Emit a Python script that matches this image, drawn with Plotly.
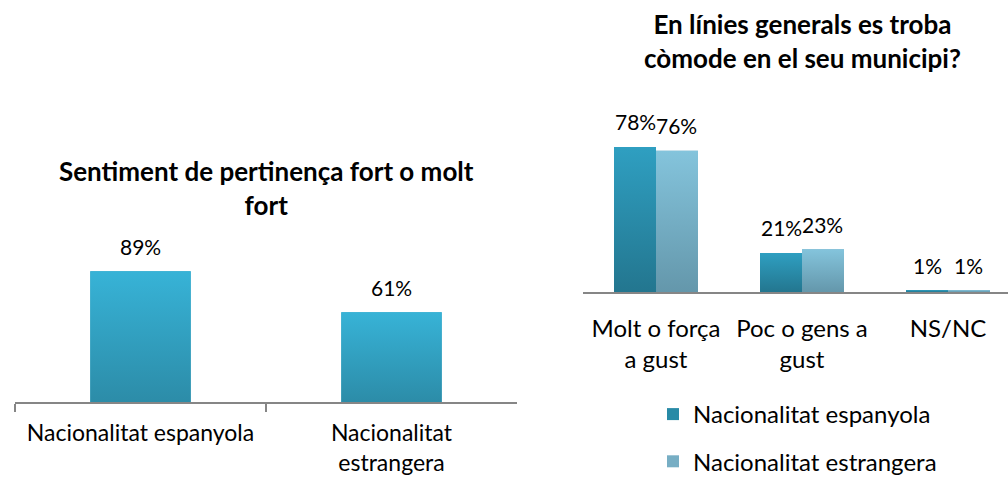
import plotly.graph_objects as go

# Left chart data
left_title = "Sentiment de pertinença fort o molt<br>fort"
left_categories = ["Nacionalitat espanyola", "Nacionalitat<br>estrangera"]
left_values = [89, 61]

# Right chart data
right_title = "En línies generals es troba<br>còmode en el seu municipi?"
right_categories = ["Molt o força<br>a gust", "Poc o gens a<br>gust", "NS/NC"]
series_names = ["Nacionalitat espanyola", "Nacionalitat estrangera"]
espanyola = [78, 21, 1]
estrangera = [76, 23, 1]

# Styles
FONT = "Lato, Carlito, Calibri, sans-serif"
W, H = 1008, 480
LABEL_SIZE = 21
TICK_SIZE = 24
LEFT_TICK_SIZE = 23
TITLE_SIZE = 26
BARGAP = 0.425
LEFT_WIDTH = 0.4
LEFT_GRAD = ("#2C8CA8", "#37B3D7")     # bottom, top
ESP_GRAD = ("#23768F", "#2F9FC1")
EST_GRAD = ("#6497AB", "#84C4DC")
LEFT_SOLID = "#31A0BF"
ESP_SOLID = "#288AA6"
EST_SOLID = "#77AEC4"


def px_x(p):
    return p / W


def px_y(p):
    return (H - p) / H


fig = go.Figure()

# Base bars (category axes)
fig.add_trace(go.Bar(
    x=left_categories, y=left_values, xaxis="x", yaxis="y",
    marker=dict(color=LEFT_SOLID, line=dict(width=0)),
    showlegend=False, width=LEFT_WIDTH,
))
fig.add_trace(go.Bar(
    x=right_categories, y=espanyola, xaxis="x2", yaxis="y2",
    name=series_names[0], legendgroup="a",
    marker=dict(color=ESP_SOLID, line=dict(width=0)),
))
fig.add_trace(go.Bar(
    x=right_categories, y=estrangera, xaxis="x2", yaxis="y2",
    name=series_names[1], legendgroup="b",
    marker=dict(color=EST_SOLID, line=dict(width=0)),
))


def grad_bar(xc, half_w, v, grad, xa, ya):
    fig.add_trace(go.Scatter(
        x=[xc - half_w, xc + half_w, xc + half_w, xc - half_w, xc - half_w],
        y=[0, 0, v, v, 0],
        xaxis=xa, yaxis=ya, mode="lines", line=dict(width=0),
        fill="toself",
        fillgradient=dict(type="vertical", colorscale=[[0, grad[0]], [1, grad[1]]]),
        showlegend=False, hoverinfo="skip",
    ))


# Gradient overlays on overlaid linear axes, positioned from the data
for i, v in enumerate(left_values):
    grad_bar(i, LEFT_WIDTH / 2, v, LEFT_GRAD, "x3", "y3")

bar_w = (1 - BARGAP) / 2
for i, (a, b) in enumerate(zip(espanyola, estrangera)):
    grad_bar(i - bar_w / 2, bar_w / 2, a, ESP_GRAD, "x4", "y4")
    grad_bar(i + bar_w / 2, bar_w / 2, b, EST_GRAD, "x4", "y4")

annotations = [
    dict(text=f"<b>{left_title}</b>", x=px_x(266), y=px_y(188), xref="paper", yref="paper",
         xanchor="center", yanchor="middle", showarrow=False,
         font=dict(size=TITLE_SIZE, family=FONT, color="#000000")),
    dict(text=f"<b>{right_title}</b>", x=px_x(802), y=px_y(41), xref="paper", yref="paper",
         xanchor="center", yanchor="middle", showarrow=False,
         font=dict(size=TITLE_SIZE, family=FONT, color="#000000")),
]

# value labels
for i, v in enumerate(left_values):
    annotations.append(dict(text=f"{v}%", x=i, y=v, xref="x3", yref="y3",
                            xanchor="center", yanchor="middle", yshift=25, showarrow=False,
                            font=dict(size=LABEL_SIZE, family=FONT, color="#000000")))
for i, (a, b) in enumerate(zip(espanyola, estrangera)):
    for off, v in ((-bar_w / 2, a), (bar_w / 2, b)):
        annotations.append(dict(text=f"{v}%", x=i + off, y=v, xref="x4", yref="y4",
                                xanchor="center", yanchor="middle", yshift=25, showarrow=False,
                                font=dict(size=LABEL_SIZE, family=FONT, color="#000000")))

LEFT_DOM_Y = [px_y(402), px_y(255)]
RIGHT_DOM_Y = [px_y(292), px_y(106)]
LEFT_RANGE_X = [-0.5, 1.5]
RIGHT_RANGE_X = [-0.5, 2.411]

fig.update_layout(
    width=W, height=H,
    margin=dict(l=0, r=0, t=0, b=0, autoexpand=False),
    paper_bgcolor="white", plot_bgcolor="white",
    font=dict(family=FONT, color="#000000", size=TICK_SIZE),
    barmode="group", bargap=BARGAP, bargroupgap=0,
    hovermode=False,
    xaxis=dict(
        domain=[px_x(15), px_x(517)], range=LEFT_RANGE_X,
        anchor="y", showline=True, linecolor="#868686", linewidth=2,
        ticks="outside", tickson="boundaries", ticklen=8, tickcolor="#868686", tickwidth=2,
        tickfont=dict(size=LEFT_TICK_SIZE, family=FONT, color="#000000"),
        tickangle=0, automargin=False,
        ticklabelstandoff=9,
        showgrid=False, zeroline=False,
    ),
    yaxis=dict(
        domain=LEFT_DOM_Y, range=[0, 100], automargin=False,
        anchor="x", visible=False, showgrid=False, zeroline=False,
    ),
    xaxis3=dict(overlaying="x", anchor="y3", range=LEFT_RANGE_X, visible=False, automargin=False),
    yaxis3=dict(overlaying="y", anchor="x3", range=[0, 100], visible=False, automargin=False),
    xaxis2=dict(
        domain=[px_x(583), 1.0], range=RIGHT_RANGE_X,
        anchor="y2", showline=True, linecolor="#868686", linewidth=2,
        ticks="", tickfont=dict(size=TICK_SIZE, family=FONT, color="#000000"),
        tickangle=0, automargin=False,
        ticklabelstandoff=14,
        showgrid=False, zeroline=False,
    ),
    yaxis2=dict(
        domain=RIGHT_DOM_Y, range=[0, 100], automargin=False,
        anchor="x2", visible=False, showgrid=False, zeroline=False,
    ),
    xaxis4=dict(overlaying="x2", anchor="y4", range=RIGHT_RANGE_X, visible=False, automargin=False),
    yaxis4=dict(overlaying="y2", anchor="x4", range=[0, 100], visible=False, automargin=False),
    legend=dict(
        x=px_x(653), y=px_y(392), xanchor="left", yanchor="top",
        orientation="v", tracegroupgap=13, itemwidth=30,
        font=dict(size=TICK_SIZE, family=FONT, color="#000000"),
        bgcolor="rgba(0,0,0,0)",
    ),
    annotations=annotations,
)

fig.write_html("out.html")
